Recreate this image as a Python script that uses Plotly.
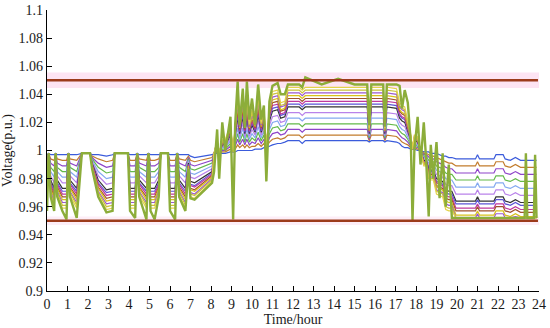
import numpy as np
import plotly.graph_objects as go

# time axis (hour of day)
hours = [0.00, 0.08, 0.18, 0.35, 0.42, 0.50, 0.75, 0.95, 1.05, 1.12,
         1.45, 1.70, 2.10, 2.20, 2.50, 2.90, 3.20, 3.30, 3.95, 4.05,
         4.30, 4.40, 4.50, 4.85, 4.95, 5.05, 5.25, 5.45, 5.55, 5.90,
         6.00, 6.25, 6.35, 6.45, 6.75, 6.90, 7.00, 7.20, 8.05, 8.15,
         8.30, 8.40, 8.55, 8.70, 8.95, 9.08, 9.18, 9.30, 9.40, 9.55,
         9.65, 9.75, 9.87, 10.00, 10.15, 10.30, 10.45, 10.58, 10.70, 10.85,
         11.00, 11.25, 11.40, 11.60, 11.75, 12.30, 12.45, 12.60, 13.40, 14.20,
         15.00, 15.62, 15.72, 15.82, 16.40, 16.48, 16.58, 17.05, 17.20, 17.32,
         17.45, 17.60, 17.75, 17.83, 17.92, 18.08, 18.22, 18.38, 18.50, 18.62,
         18.72, 18.85, 19.00, 19.15, 19.30, 19.45, 19.60, 19.75, 19.95, 20.90,
         21.00, 21.10, 21.80, 21.90, 22.25, 22.35, 22.60, 22.85, 23.10, 23.30,
         23.36, 23.43, 23.75, 23.81, 23.88]

# node voltages in 1/1000 p.u., node_01 nearest the substation ... node_15 feeder end
node_01 = [997, 998, 997, 997, 998, 997, 997, 997, 998, 997,
           997, 998, 998, 997, 997, 996, 997, 998, 998, 997,
           997, 998, 997, 997, 998, 997, 997, 997, 998, 998,
           997, 997, 998, 997, 997, 997, 996, 995, 997, 998,
           998, 998, 998, 998, 999, 999, 999, 1000, 1000, 1000,
           1000, 1000, 1000, 1000, 1001, 1001, 1001, 1002, 1002, 1003,
           1004, 1005, 1005, 1006, 1007, 1007, 1005, 1007, 1007, 1007,
           1007, 1007, 1006, 1007, 1007, 1006, 1007, 1006, 1005, 1003,
           1002, 1002, 1001, 1001, 1001, 1000, 1000, 999, 999, 999,
           998, 998, 998, 997, 996, 996, 995, 995, 994, 994,
           997, 994, 994, 997, 997, 994, 993, 995, 993, 993,
           993, 993, 993, 993, 993]
node_02 = [993, 998, 994, 993, 998, 994, 993, 993, 998, 994,
           993, 998, 998, 996, 994, 992, 993, 998, 998, 993,
           993, 998, 994, 993, 998, 993, 993, 994, 998, 998,
           993, 993, 998, 994, 993, 996, 993, 992, 995, 998,
           999, 998, 999, 999, 1001, 999, 1001, 1004, 1002, 1004,
           1002, 1004, 1002, 1003, 1003, 1005, 1003, 1005, 1002, 1006,
           1008, 1009, 1008, 1009, 1011, 1011, 1009, 1011, 1011, 1011,
           1011, 1011, 1007, 1011, 1011, 1007, 1011, 1010, 1008, 1006,
           1005, 1004, 1002, 1001, 1002, 1001, 1000, 998, 998, 997,
           996, 996, 995, 994, 993, 992, 991, 991, 989, 989,
           992, 989, 989, 992, 992, 989, 988, 990, 988, 988,
           988, 988, 988, 988, 988]
node_03 = [989, 998, 991, 989, 998, 991, 989, 989, 998, 991,
           989, 998, 998, 995, 991, 988, 989, 998, 998, 989,
           989, 998, 991, 989, 998, 989, 989, 991, 998, 998,
           989, 989, 998, 991, 989, 995, 990, 989, 993, 998,
           1000, 998, 1000, 1000, 1003, 999, 1003, 1008, 1004, 1008,
           1004, 1008, 1004, 1006, 1005, 1009, 1005, 1008, 1002, 1009,
           1012, 1013, 1011, 1012, 1015, 1015, 1013, 1015, 1015, 1015,
           1015, 1015, 1008, 1015, 1015, 1008, 1015, 1014, 1011, 1009,
           1008, 1006, 1003, 1001, 1003, 1002, 1000, 997, 997, 995,
           994, 994, 992, 991, 990, 988, 987, 987, 984, 984,
           987, 984, 984, 987, 987, 984, 983, 985, 983, 983,
           983, 983, 983, 983, 983]
node_04 = [985, 998, 988, 985, 998, 988, 985, 985, 998, 988,
           985, 998, 998, 994, 988, 984, 985, 998, 998, 985,
           985, 998, 988, 985, 998, 985, 985, 988, 998, 998,
           985, 985, 998, 988, 985, 994, 987, 986, 991, 998,
           1001, 998, 1001, 1001, 1005, 999, 1005, 1012, 1006, 1012,
           1006, 1012, 1006, 1009, 1007, 1013, 1007, 1011, 1002, 1012,
           1016, 1017, 1014, 1015, 1019, 1019, 1017, 1019, 1019, 1019,
           1019, 1019, 1009, 1019, 1019, 1009, 1019, 1018, 1014, 1012,
           1011, 1008, 1004, 1001, 1004, 1003, 1000, 996, 996, 993,
           992, 992, 989, 988, 987, 984, 983, 983, 979, 979,
           982, 979, 979, 982, 982, 979, 978, 980, 978, 978,
           978, 978, 978, 978, 978]
node_05 = [981, 998, 985, 981, 998, 985, 981, 981, 998, 985,
           981, 998, 998, 993, 985, 980, 981, 998, 998, 981,
           981, 998, 985, 981, 998, 981, 981, 985, 998, 998,
           981, 981, 998, 985, 981, 993, 984, 983, 989, 998,
           1002, 998, 1002, 1002, 1007, 999, 1007, 1016, 1008, 1016,
           1008, 1016, 1008, 1012, 1009, 1017, 1009, 1014, 1002, 1015,
           1020, 1021, 1017, 1018, 1023, 1023, 1021, 1023, 1023, 1023,
           1023, 1023, 1010, 1023, 1023, 1010, 1023, 1022, 1017, 1015,
           1014, 1010, 1005, 1001, 1005, 1004, 1000, 995, 995, 991,
           990, 990, 986, 985, 984, 980, 979, 979, 974, 974,
           977, 974, 974, 977, 977, 974, 973, 975, 973, 973,
           973, 973, 973, 973, 973]
node_06 = [977, 998, 982, 977, 998, 982, 977, 977, 998, 982,
           977, 998, 998, 992, 982, 976, 977, 998, 998, 977,
           977, 998, 982, 977, 998, 977, 977, 982, 998, 998,
           977, 977, 998, 982, 977, 992, 981, 980, 987, 998,
           1003, 998, 1003, 1003, 1009, 999, 1009, 1020, 1010, 1020,
           1010, 1020, 1010, 1015, 1011, 1021, 1011, 1017, 1002, 1018,
           1024, 1025, 1020, 1021, 1027, 1027, 1025, 1027, 1027, 1027,
           1027, 1027, 1011, 1027, 1027, 1011, 1027, 1026, 1020, 1018,
           1017, 1012, 1006, 1001, 1006, 1005, 1000, 994, 994, 989,
           988, 988, 983, 982, 981, 976, 975, 975, 969, 969,
           972, 969, 969, 972, 972, 969, 968, 970, 968, 968,
           968, 968, 968, 968, 968]
node_07 = [973, 998, 979, 973, 998, 979, 973, 973, 998, 979,
           973, 998, 998, 991, 979, 972, 973, 998, 998, 973,
           973, 998, 979, 973, 998, 973, 973, 979, 998, 998,
           973, 973, 998, 979, 973, 991, 978, 977, 985, 998,
           1004, 998, 1004, 1004, 1011, 999, 1011, 1024, 1012, 1024,
           1012, 1024, 1012, 1018, 1013, 1025, 1013, 1020, 1002, 1021,
           1028, 1029, 1023, 1024, 1031, 1031, 1029, 1031, 1031, 1031,
           1031, 1031, 1012, 1031, 1031, 1012, 1031, 1030, 1023, 1021,
           1020, 1014, 1007, 1001, 1007, 1006, 1000, 993, 993, 987,
           986, 986, 980, 979, 978, 972, 971, 971, 964, 964,
           967, 964, 964, 967, 967, 964, 963, 965, 963, 963,
           963, 963, 963, 963, 963]
node_08 = [971, 998, 977, 971, 998, 977, 971, 971, 998, 977,
           971, 998, 998, 990, 977, 970, 971, 998, 998, 971,
           971, 998, 977, 971, 998, 971, 971, 977, 998, 998,
           971, 971, 998, 977, 971, 990, 976, 975, 984, 998,
           1005, 998, 1005, 1005, 1012, 999, 1012, 1026, 1013, 1026,
           1013, 1026, 1013, 1020, 1014, 1027, 1014, 1022, 1002, 1023,
           1030, 1031, 1025, 1026, 1033, 1033, 1031, 1033, 1033, 1033,
           1033, 1033, 1013, 1033, 1033, 1013, 1033, 1032, 1025, 1023,
           1022, 1015, 1008, 1001, 1008, 1007, 1000, 992, 992, 986,
           985, 985, 978, 977, 976, 970, 969, 969, 962, 962,
           965, 962, 962, 965, 965, 962, 961, 963, 961, 961,
           961, 961, 961, 961, 961]
node_09 = [969, 998, 976, 969, 998, 976, 969, 969, 998, 976,
           969, 998, 998, 990, 976, 968, 969, 998, 998, 969,
           969, 998, 976, 969, 998, 969, 969, 976, 998, 998,
           969, 969, 998, 976, 969, 990, 975, 974, 983, 998,
           1005, 998, 1005, 1005, 1013, 999, 1013, 1028, 1014, 1028,
           1014, 1028, 1014, 1021, 1015, 1029, 1015, 1023, 1002, 1024,
           1032, 1033, 1026, 1027, 1035, 1035, 1033, 1035, 1035, 1035,
           1035, 1035, 1013, 1035, 1035, 1013, 1035, 1034, 1026, 1024,
           1023, 1016, 1008, 1001, 1008, 1007, 1000, 992, 992, 985,
           984, 984, 977, 976, 975, 968, 967, 967, 959, 959,
           962, 959, 959, 962, 962, 959, 958, 960, 958, 958,
           958, 958, 958, 958, 958]
node_10 = [967, 998, 974, 967, 998, 974, 967, 967, 998, 974,
           967, 998, 998, 989, 974, 966, 967, 998, 998, 967,
           967, 998, 974, 967, 998, 967, 967, 974, 998, 998,
           967, 967, 998, 974, 967, 989, 973, 972, 982, 998,
           1006, 998, 1006, 1006, 1014, 999, 1014, 1030, 1015, 1030,
           1015, 1030, 1015, 1023, 1016, 1031, 1016, 1025, 1002, 1026,
           1034, 1035, 1028, 1029, 1037, 1037, 1035, 1037, 1037, 1037,
           1037, 1037, 1014, 1037, 1037, 1014, 1037, 1036, 1028, 1026,
           1025, 1017, 1009, 1001, 1009, 1008, 1000, 991, 991, 984,
           983, 983, 975, 974, 973, 966, 965, 965, 957, 957,
           960, 957, 957, 960, 960, 957, 956, 958, 956, 956,
           956, 956, 956, 956, 956]
node_11 = [965, 998, 973, 965, 998, 973, 965, 965, 998, 973,
           965, 998, 998, 989, 973, 964, 965, 998, 998, 965,
           965, 998, 973, 965, 998, 965, 965, 973, 998, 998,
           965, 965, 998, 973, 965, 989, 972, 971, 981, 998,
           1006, 998, 1006, 1006, 1015, 999, 1015, 1032, 1016, 1032,
           1016, 1032, 1016, 1024, 1017, 1033, 1017, 1026, 1002, 1027,
           1036, 1037, 1029, 1030, 1039, 1039, 1037, 1039, 1039, 1039,
           1039, 1039, 1014, 1039, 1039, 1014, 1039, 1038, 1029, 1027,
           1026, 1018, 1009, 1001, 1009, 1008, 1000, 991, 991, 983,
           982, 982, 974, 973, 972, 964, 963, 963, 954, 954,
           957, 954, 954, 957, 957, 954, 953, 955, 953, 953,
           953, 953, 953, 953, 953]
node_12 = [963, 998, 971, 963, 998, 971, 963, 963, 998, 971,
           963, 998, 998, 988, 971, 962, 963, 998, 998, 963,
           963, 998, 971, 963, 998, 963, 963, 971, 998, 998,
           963, 963, 998, 971, 963, 988, 970, 969, 980, 998,
           1007, 998, 1007, 1007, 1016, 999, 1016, 1034, 1017, 1034,
           1017, 1034, 1017, 1026, 1018, 1035, 1018, 1028, 1002, 1029,
           1038, 1039, 1031, 1032, 1041, 1041, 1039, 1041, 1041, 1041,
           1041, 1041, 1015, 1041, 1041, 1015, 1041, 1040, 1031, 1029,
           1028, 1019, 1010, 1001, 1010, 1009, 1000, 990, 990, 982,
           981, 981, 972, 971, 970, 962, 961, 961, 952, 952,
           955, 952, 952, 955, 955, 952, 952, 953, 952, 952,
           952, 952, 952, 952, 952]
node_13 = [961, 998, 970, 961, 998, 970, 961, 961, 998, 970,
           961, 998, 998, 988, 970, 960, 961, 998, 998, 961,
           961, 998, 970, 961, 998, 961, 961, 970, 998, 998,
           961, 961, 998, 970, 961, 988, 969, 968, 979, 998,
           1007, 998, 1007, 1007, 1017, 999, 1017, 1036, 1018, 1036,
           1018, 1036, 1018, 1027, 1019, 1037, 1019, 1029, 1002, 1030,
           1040, 1041, 1032, 1033, 1043, 1043, 1041, 1043, 1043, 1043,
           1043, 1043, 1015, 1043, 1043, 1015, 1043, 1042, 1032, 1030,
           1029, 1020, 1010, 1001, 1010, 1009, 1000, 990, 990, 981,
           980, 980, 971, 970, 969, 960, 959, 959, 952, 952,
           952, 952, 952, 952, 952, 952, 952, 952, 952, 952,
           952, 952, 952, 952, 952]
node_14 = [959, 998, 968, 959, 998, 968, 959, 959, 998, 968,
           959, 998, 998, 987, 968, 958, 959, 998, 998, 959,
           959, 998, 968, 959, 998, 959, 959, 968, 998, 998,
           959, 959, 998, 968, 959, 987, 967, 966, 978, 998,
           1008, 998, 1008, 1008, 1018, 999, 1018, 1038, 1019, 1038,
           1019, 1038, 1019, 1029, 1020, 1039, 1020, 1031, 1002, 1032,
           1042, 1043, 1034, 1035, 1045, 1045, 1043, 1045, 1045, 1045,
           1045, 1045, 1016, 1045, 1045, 1016, 1045, 1044, 1034, 1032,
           1031, 1021, 1011, 1001, 1011, 1010, 1000, 989, 989, 980,
           979, 979, 969, 968, 967, 958, 957, 957, 952, 952,
           952, 952, 952, 952, 952, 952, 952, 952, 952, 952,
           952, 952, 952, 952, 952]
node_15 = [957, 998, 967, 957, 998, 967, 957, 951, 998, 967,
           952, 998, 998, 987, 967, 956, 957, 998, 998, 957,
           952, 998, 967, 951, 998, 957, 951, 967, 998, 998,
           957, 951, 998, 967, 957, 987, 966, 965, 977, 985,
           1015, 980, 1020, 1000, 1024, 951, 1019, 1049, 1018, 1044,
           1016, 1049, 1022, 1037, 1018, 1047, 1022, 1032, 978, 1035,
           1046, 1048, 1040, 1040, 1047, 1047, 1045, 1052, 1047, 1051,
           1047, 1047, 1018, 1047, 1047, 1017, 1047, 1047, 1046, 1030,
           1043, 1034, 1005, 950, 1000, 1024, 990, 1020, 992, 953,
           1004, 980, 1006, 966, 998, 960, 990, 952, 952, 952,
           952, 952, 952, 952, 952, 952, 952, 952, 952, 952,
           998, 952, 952, 997, 952]

lower_limit = 0.95
upper_limit = 1.05

nodes = [node_01, node_02, node_03, node_04, node_05, node_06, node_07, node_08,
         node_09, node_10, node_11, node_12, node_13, node_14, node_15]
colors = ['#3b5bdb', '#c27c2c', '#8e44c9', '#63b949', '#84a9f0', '#b982ea',
          '#333333', '#5d55d6', '#c0399e', '#a0522d', '#d8c21a', '#9b59d0',
          '#c9c03a', '#e3d34a', '#8cad3a']

fig = go.Figure()

for i, v in enumerate(nodes):
    fig.add_trace(go.Scatter(
        x=hours, y=np.array(v) / 1000, mode='lines',
        line=dict(color=colors[i], width=2.4 if i == len(nodes) - 1 else 1.2),
        showlegend=False, hoverinfo='skip'))

# light pink bands behind the limits
fig.add_shape(type='rect', xref='x', yref='y', x0=0, x1=24, y0=1.0445, y1=1.0555,
              fillcolor='#fde4f3', line_width=0, layer='below')
fig.add_shape(type='rect', xref='x', yref='y', x0=0, x1=24, y0=0.9470, y1=0.9530,
              fillcolor='#fdeef7', line_width=0, layer='below')

# voltage limits
for lim in [lower_limit, upper_limit]:
    fig.add_shape(type='line', xref='x', yref='y', x0=0, x1=23.95, y0=lim, y1=lim,
                  line=dict(color='#9c3b1b', width=2.5))

axis_font = dict(family='Liberation Serif, Times New Roman, serif', size=14, color='#1a1a1a')

fig.update_xaxes(range=[0, 24], tick0=0, dtick=1, ticks='inside', ticklen=5,
                 tickcolor='black', showline=True, linecolor='black', linewidth=1.2,
                 showgrid=False, zeroline=False, automargin=False,
                 tickfont=axis_font,
                 title=dict(text='Time/hour', font=axis_font, standoff=2))
fig.update_yaxes(range=[0.9, 1.1], tick0=0.9, dtick=0.02, ticks='inside', ticklen=5,
                 tickcolor='black', showline=True, linecolor='black', linewidth=1.2,
                 showgrid=False, zeroline=False, automargin=False,
                 tickfont=axis_font,
                 title=dict(text='Voltage(p.u.)', font=axis_font, standoff=2))

fig.update_layout(width=550, height=328, template='none',
                  margin=dict(l=47, r=11, t=10, b=37),
                  paper_bgcolor='white', plot_bgcolor='white',
                  font=axis_font)

# drop the browser's default page margin so the figure sits at the window's corner
fig.write_html("out.html", config={'displayModeBar': False},
               post_script="document.body.style.margin='0';")
